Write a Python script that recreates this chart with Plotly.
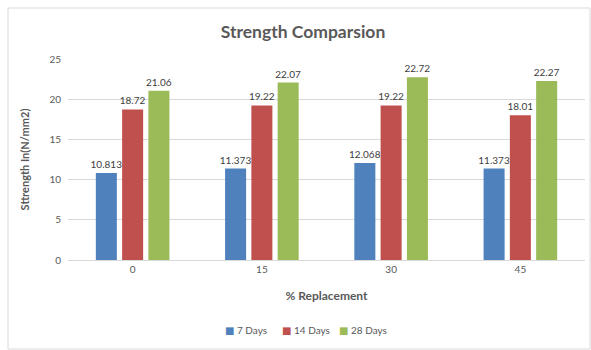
import plotly.graph_objects as go

categories = ["0", "15", "30", "45"]
days_7 = [10.813, 11.373, 12.068, 11.373]
days_14 = [18.72, 19.22, 19.22, 18.01]
days_28 = [21.06, 22.07, 22.72, 22.27]
series_names = ["7 Days", "14 Days", "28 Days"]
colors = ["#4F81BD", "#C0504D", "#9BBB59"]

FONT = "Lato, 'Open Sans', sans-serif"
GREY = "#595959"
CLEAR = "rgba(0,0,0,0)"

fig = go.Figure()
for name, vals, col in zip(series_names, [days_7, days_14, days_28], colors):
    fig.add_trace(go.Bar(
        x=categories, y=vals, name=name, showlegend=False, legendgroup=name,
        marker=dict(color=col, line=dict(width=0)),
        text=[f"{v:g}" for v in vals], textposition="outside",
        textfont=dict(size=10, color="#404040", family=FONT),
        constraintext="none", cliponaxis=False,
    ))

# legend entries: a small coloured square glyph right before each series name
for name, col in zip(series_names, colors):
    fig.add_trace(go.Scatter(
        x=[None], y=[None], mode="markers", legendgroup=name,
        marker=dict(size=1, color=CLEAR, line=dict(width=0)),
        name=f'<span style="color:{col};font-family:DejaVu Sans">■</span> {name}',
    ))
# empty trailing entry so the last label is not cut off by the legend box
fig.add_trace(go.Scatter(
    x=[None], y=[None], mode="markers", name=" ", hoverinfo="skip",
    marker=dict(size=1, color=CLEAR, line=dict(width=0)),
))

fig.update_layout(
    width=591, height=350,
    margin=dict(l=68, r=6, t=59, b=90, autoexpand=False),
    paper_bgcolor="white", plot_bgcolor="white",
    barmode="group", bargap=0.39, bargroupgap=0.2,
    font=dict(family=FONT, color=GREY, size=10),
    title=dict(text="<b>Strength Comparsion</b>", x=303 / 591, xref="container", xanchor="center",
               y=1 - 32 / 350, yref="container", yanchor="middle",
               font=dict(size=17.5, color=GREY, family=FONT)),
    showlegend=True,
    legend=dict(orientation="h", x=(225 - 40) / 591, xref="container", xanchor="left",
                y=1 - 330 / 350, yref="container", yanchor="middle",
                font=dict(size=10, color=GREY, family=FONT),
                entrywidth=12, entrywidthmode="pixels",
                traceorder="normal", tracegroupgap=0),
)
fig.update_xaxes(
    title=dict(text="<b>% Replacement</b>", font=dict(size=12, color=GREY), standoff=17),
    showline=True, linecolor="#d9d9d9", linewidth=1, ticks="",
    tickfont=dict(size=10, color=GREY), automargin=False,
)
fig.update_yaxes(
    title=dict(text="<b>Sttrength In(N/mm2)</b>", font=dict(size=11, color=GREY), standoff=17),
    range=[0, 25], dtick=5, showgrid=True, gridcolor="#d9d9d9", gridwidth=1,
    zeroline=False, showline=False, ticks="", ticklabelstandoff=6,
    tickfont=dict(size=10, color=GREY), automargin=False,
)
# light frame around the whole chart
fig.add_shape(type="rect", xref="paper", yref="paper",
              x0=(8 - 68) / 517, x1=(590 - 68) / 517,
              y0=(260 - 349) / 201, y1=(260 - 8) / 201,
              line=dict(color="#d9d9d9", width=1), fillcolor=CLEAR, layer="below")

fig.write_html("out.html")
